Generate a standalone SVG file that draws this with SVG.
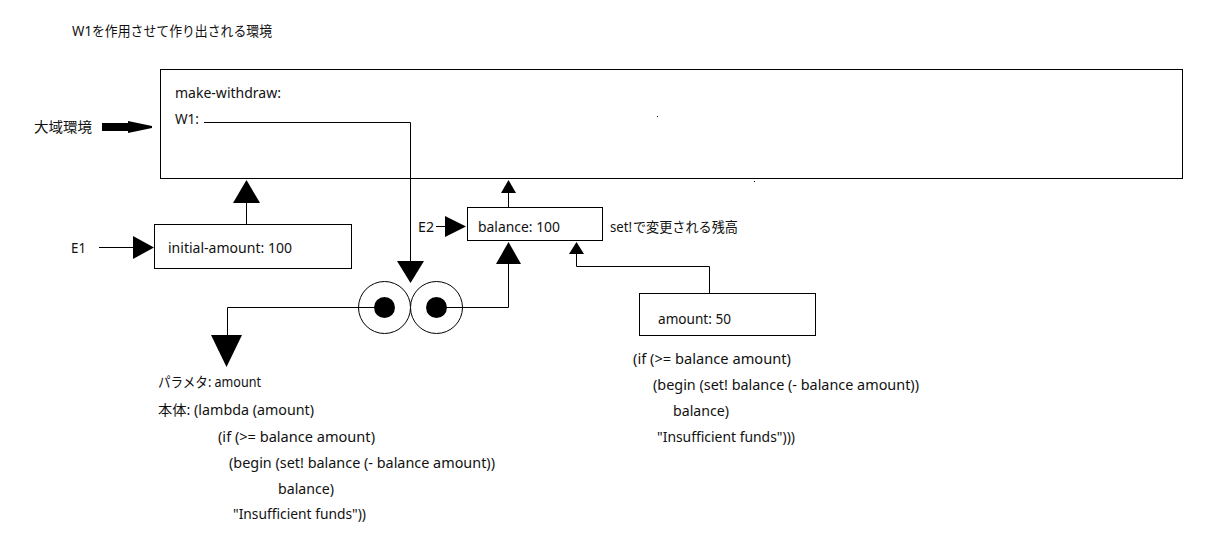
<svg xmlns="http://www.w3.org/2000/svg" width="1216" height="539" viewBox="0 0 1216 539">
<style>
text{font-family:"Noto Sans","Noto Sans CJK JP",sans-serif;font-size:14px;fill:#111}
.box{fill:#fff;stroke:#000;stroke-width:1}
.ln{fill:none;stroke:#000;stroke-width:1}
.hd{fill:#000;stroke:none}
.ring{fill:#fff;stroke:#000;stroke-width:1}
</style>
<rect width="1216" height="539" fill="#fff"/>
<text y="36"><tspan x="72" textLength="20" lengthAdjust="spacingAndGlyphs">W1</tspan><tspan x="92" textLength="180" lengthAdjust="spacingAndGlyphs">を作用させて作り出される環境</tspan></text>
<g id="global-env">
<rect class="box" x="160.5" y="69.5" width="1022" height="109"/>
<text x="175" y="98" textLength="106" lengthAdjust="spacingAndGlyphs">make-withdraw:</text>
<text x="175" y="124" textLength="24" lengthAdjust="spacingAndGlyphs">W1:</text>
<rect x="657" y="116" width="1" height="1" fill="#000"/>
<rect x="754" y="181" width="1" height="1" fill="#000"/>
</g>
<g id="global-label">
<text x="34" y="132" textLength="58" lengthAdjust="spacingAndGlyphs">大域環境</text>
<polygon class="hd" points="102,123 128,123 128,121 152,126 152,128 128,133 128,131 102,131"/>
</g>
<g id="e1">
<rect class="box" x="154.5" y="224.5" width="197" height="44"/>
<text x="168" y="253" textLength="124" lengthAdjust="spacingAndGlyphs">initial-amount: 100</text>
</g>
<g id="e1-label"><text x="71" y="253" textLength="15" lengthAdjust="spacingAndGlyphs">E1</text></g>
<g id="e2">
<rect class="box" x="467.5" y="207.5" width="135" height="33"/>
<text x="478" y="232" textLength="82" lengthAdjust="spacingAndGlyphs">balance: 100</text>
</g>
<g id="e2-label"><text x="418" y="232" textLength="16" lengthAdjust="spacingAndGlyphs">E2</text></g>
<g id="e2-note"><text y="232"><tspan x="610" textLength="22" lengthAdjust="spacingAndGlyphs">set!</tspan><tspan x="633" textLength="105" lengthAdjust="spacingAndGlyphs">で変更される残高</tspan></text></g>
<g id="e3">
<rect class="box" x="639.5" y="293.5" width="176" height="42"/>
<text x="658" y="324" textLength="73" lengthAdjust="spacingAndGlyphs">amount: 50</text>
</g>
<g id="e3-body">
<text x="633" y="364" textLength="158" lengthAdjust="spacingAndGlyphs">(if (&gt;= balance amount)</text>
<text x="653" y="390" textLength="266" lengthAdjust="spacingAndGlyphs">(begin (set! balance (- balance amount))</text>
<text x="673" y="416" textLength="56" lengthAdjust="spacingAndGlyphs">balance)</text>
<text x="657" y="442" textLength="138" lengthAdjust="spacingAndGlyphs">"Insufficient funds")))</text>
</g>
<g id="procedure">
<circle class="ring" cx="384.5" cy="307.5" r="26"/>
<circle class="ring" cx="436.5" cy="307.5" r="26"/>
<circle class="hd" cx="384.5" cy="307.5" r="10.5"/>
<circle class="hd" cx="436.5" cy="307.5" r="10.5"/>
</g>
<g id="procedure-body">
<text x="158" y="387" textLength="103" lengthAdjust="spacingAndGlyphs">パラメタ: amount</text>
<text x="158" y="415" textLength="156" lengthAdjust="spacingAndGlyphs">本体: (lambda (amount)</text>
<text x="218" y="442" textLength="157" lengthAdjust="spacingAndGlyphs">(if (&gt;= balance amount)</text>
<text x="229" y="468" textLength="266" lengthAdjust="spacingAndGlyphs">(begin (set! balance (- balance amount))</text>
<text x="278" y="494" textLength="56" lengthAdjust="spacingAndGlyphs">balance)</text>
<text x="233" y="519" textLength="133" lengthAdjust="spacingAndGlyphs">"Insufficient funds"))</text>
</g>
<g id="connectors">
<polyline class="ln" points="204,122.5 410.5,122.5 410.5,262"/>
<polygon class="hd" points="397,261 424,261 410.5,283"/>
<polyline class="ln" points="384,307.5 227.5,307.5 227.5,336"/>
<polygon class="hd" points="211,335 242,335 226.5,367"/>
<polyline class="ln" points="437,307.5 508.5,307.5 508.5,263"/>
<polygon class="hd" points="496,264 521,264 508.5,242"/>
<line class="ln" x1="508.5" y1="207" x2="508.5" y2="192"/>
<polygon class="hd" points="501,193 516,193 508.5,180"/>
<polyline class="ln" points="709.5,293 709.5,266.5 576.5,266.5 576.5,253"/>
<polygon class="hd" points="569,254 584,254 576.5,242"/>
<line class="ln" x1="246.5" y1="224" x2="246.5" y2="202"/>
<polygon class="hd" points="233,203 260,203 246.5,180"/>
<line class="ln" x1="99" y1="247.5" x2="134" y2="247.5"/>
<polygon class="hd" points="133,236 133,259 154,247.5"/>
<line class="ln" x1="436" y1="226.5" x2="446" y2="226.5"/>
<polygon class="hd" points="445,216 445,237 466,226.5"/>
</g>
</svg>
